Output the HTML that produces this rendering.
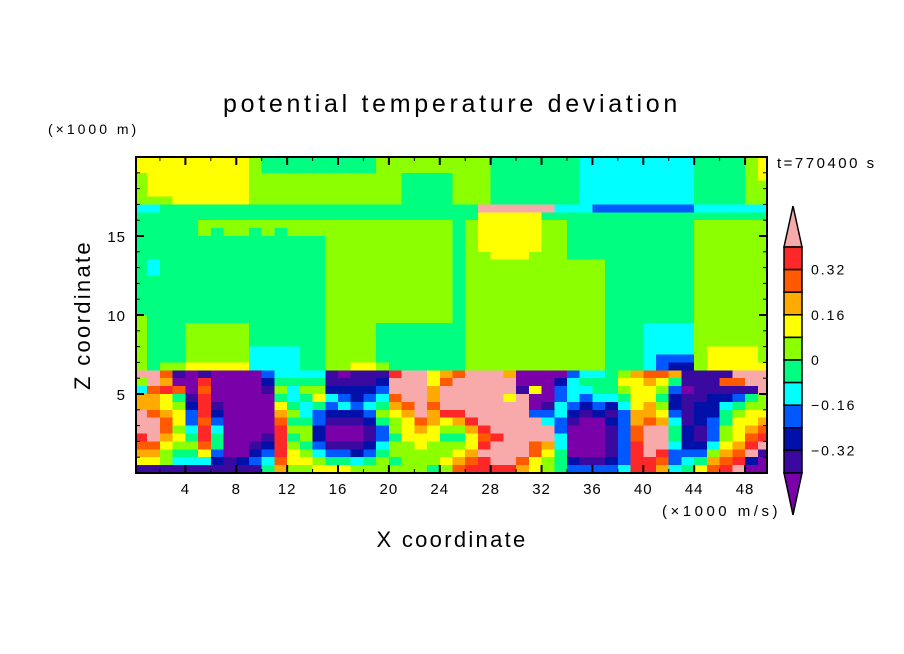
<!DOCTYPE html>
<html><head><meta charset="utf-8">
<style>
html,body{margin:0;padding:0;background:#fff;}
svg{display:block;font-family:"Liberation Sans","DejaVu Sans",sans-serif;}
</style></head>
<body>
<svg id="chart" width="904" height="654" viewBox="0 0 904 654">
  <text x="452" y="112" font-size="25" text-anchor="middle" letter-spacing="3.7">potential temperature deviation</text>
  <text x="48" y="134" font-size="14" letter-spacing="3">(×1000 m)</text>
  <text x="777" y="168" font-size="15" letter-spacing="2.5">t=770400 s</text>
  <text transform="translate(90,315) rotate(-90)" font-size="22" letter-spacing="2.3" text-anchor="middle">Z coordinate</text>
  <text x="452" y="547" font-size="22" letter-spacing="2.3" text-anchor="middle">X coordinate</text>
  <text x="662" y="516" font-size="15" letter-spacing="3.5">(×1000 m/s)</text>
  <defs><clipPath id="plotclip"><rect x="136" y="157" width="631" height="316"/></clipPath></defs>
  <g id="cells" clip-path="url(#plotclip)" shape-rendering="crispEdges"></g>
  <g id="axes"></g>
  <g id="cbar"></g>
</svg>
<script>
// ---- data ----
const xTicks = [4, 8, 12, 16, 20, 24, 28, 32, 36, 40, 44, 48];
const yTicks = [5, 10, 15];
const levelColors = ["#7a00aa","#3a0aa0","#0010a8","#0058ff","#00ffff","#00ff80","#8cff00","#ffff00","#ffaa00","#ff5a00","#ff2828","#f8aaaa"];
const cbarLabels = ["0.32", "0.16", "0", "\u22120.16", "\u22120.32"];
const cbarLabelBoundary = [1, 3, 5, 7, 9];
// upper field (z 20 -> 6.5 km, 0.5 km rows), run-length "level:count" over 50 columns of 1 km
const upperRows = [
"7:9,6:1,5:9,6:9,5:7,4:9,5:4,6:1,7:1",
"7:9,6:1,5:9,6:9,5:7,4:9,5:4,6:1,7:1",
"6:1,7:8,6:12,5:4,6:3,5:7,4:9,5:4,6:1,7:1",
"6:1,7:8,6:12,5:4,6:3,5:7,4:9,5:4,6:2",
"6:1,7:8,6:12,5:4,6:3,5:7,4:9,5:4,6:2",
"6:3,7:6,6:12,5:4,6:3,5:7,4:9,5:4,6:2",
"4:2,5:25,b:6,4:3,3:8,4:6",
"5:27,7:5,5:18",
"5:5,6:20,5:1,6:1,7:5,6:2,5:10,6:6",
"5:5,6:1,5:1,6:2,5:1,6:1,5:1,6:13,5:1,6:1,7:5,6:2,5:10,6:6",
"5:15,6:10,5:1,6:1,7:5,6:2,5:10,6:6",
"5:15,6:10,5:1,6:1,7:5,6:2,5:10,6:6",
"5:15,6:10,5:1,6:2,7:3,6:3,5:10,6:6",
"5:1,4:1,5:13,6:10,5:1,6:11,5:7,6:6",
"5:1,4:1,5:13,6:10,5:1,6:11,5:7,6:6",
"5:15,6:10,5:1,6:11,5:7,6:6",
"5:15,6:10,5:1,6:11,5:7,6:6",
"5:15,6:10,5:1,6:11,5:7,6:6",
"5:15,6:10,5:1,6:11,5:7,6:6",
"5:15,6:10,5:1,6:11,5:7,6:6",
"6:1,5:14,6:10,5:1,6:11,5:7,6:6",
"6:1,5:3,6:5,5:6,6:4,5:6,5:1,6:11,5:3,4:4,6:6",
"6:1,5:3,6:5,5:6,6:4,5:6,5:1,6:11,5:3,4:4,6:6",
"6:1,5:3,6:5,5:6,6:4,5:6,5:1,6:11,5:3,4:4,6:6",
"6:1,5:3,6:5,4:4,5:2,6:4,5:6,5:1,6:11,5:3,4:4,6:1,7:4,6:1",
"6:1,5:3,6:5,4:4,5:2,6:4,5:6,5:1,6:11,5:3,4:1,3:3,6:1,7:4,6:1",
"6:1,5:1,6:2,7:5,4:4,5:2,6:2,7:2,6:1,5:5,5:1,6:11,5:3,4:1,3:1,2:2,6:1,7:5"
];
// lower field: per column (x 0..49 km), levels for rows z 6.5 -> 0 km (13 rows of 0.5 km)
const cols = [
"b6488bbba9871","bb9889bbb9871","98a7789987661","1095677676541","0001233456541",
"1a9aaa9aa9741","0000123455321","0000000000011","0000000000021","0000000001231",
"3210000012345","4565789aaaa98","4544565656776","4565445665676","4567533223467",
"1124321001357","0123421001357","1122321001246","1123432112356","1234565334566",
"abb9876656656","bbbb987776666","bbbbbb9877666","7788988776665","89bbba7656676",
"9bbbba8656789","bbbbbba87789a","bbbbbbba9abaa","bbbbbbbbabbba","8bb7bbbbbbbba",
"001bbbbbbbb98","007003bbb9977","0000134bb8766","0233443344555","3444321000023",
"4543210000013","4554320000013","5554212111123","6765433333334","877778899aaaa",
"9877889bbbbaa","9765678bbba98","8532234554334","1101111222345","1111222112357",
"1112223334689","191245566789a","b9135677789ab","bb1567789ab20","bbb66789ab100"
];
</script>
<script>
const NX = 50, NZ = 40, DX = 1, DZ = 0.5, NLOW = 13;
function xScale(v){ return 134.5 + v * 12.72; }
function yScale(z){ return 473 - z * 15.8; }
function lvl(ch){ const n = parseInt(ch, 16); return isNaN(n) ? 6 : Math.min(11, n); }
function expand(spec){
  let out = [];
  spec.split(',').forEach(p => { const [l, n] = p.split(':'); for (let i = 0; i < +n; i++) out.push(lvl(l)); });
  while (out.length < NX) out.push(out[out.length - 1]);
  return out.slice(0, NX);
}
const upperGrid = upperRows.map(expand);
function cellLevel(r, c){
  if (r < upperGrid.length) return upperGrid[r][c];
  const s = cols[c];
  const k = r - upperGrid.length;
  return lvl(s[Math.min(s.length - 1, k)]);
}
const cellsG = document.getElementById('cells');
const NS = "http://www.w3.org/2000/svg";
for (let r = 0; r < NZ; r++) {
  for (let c = 0; c < NX; c++) {
    const L = cellLevel(r, c);
    const zTop = 20 - r * DZ;
    const x0 = xScale(c * DX), x1 = xScale((c + 1) * DX);
    const y0 = yScale(zTop), y1 = yScale(zTop - DZ);
    const rect = document.createElementNS(NS, 'rect');
    rect.setAttribute('x', x0.toFixed(2));
    rect.setAttribute('y', y0.toFixed(2));
    rect.setAttribute('width', (x1 - x0 + 0.6).toFixed(2));
    rect.setAttribute('height', (y1 - y0 + 0.6).toFixed(2));
    rect.setAttribute('fill', levelColors[L]);
    
    
    cellsG.appendChild(rect);
  }
}
// axes
const axesG = document.getElementById('axes');
function line(x1,y1,x2,y2,w,name){
  const l = document.createElementNS(NS,'line');
  l.setAttribute('x1',x1);l.setAttribute('y1',y1);l.setAttribute('x2',x2);l.setAttribute('y2',y2);
  l.setAttribute('stroke','#000');l.setAttribute('stroke-width',w);
  
  
  axesG.appendChild(l);
}
const frame = document.createElementNS(NS,'rect');
frame.setAttribute('x',136);frame.setAttribute('y',157);frame.setAttribute('width',631);frame.setAttribute('height',316);
frame.setAttribute('fill','none');frame.setAttribute('stroke','#000');frame.setAttribute('stroke-width',2);


axesG.appendChild(frame);
for (let v = 2; v < 50; v += 2) {
  const major = v % 4 === 0, x = xScale(v), len = major ? 8 : 4;
  line(x, 473, x, 473 - len, major ? 2 : 1, 'x-tick');
  line(x, 157, x, 157 + len, major ? 2 : 1, 'x-tick-top');
}
xTicks.forEach(v => {
  const t = document.createElementNS(NS,'text');
  t.setAttribute('x', xScale(v)); t.setAttribute('y', 494);
  t.setAttribute('font-size', 15); t.setAttribute('text-anchor','middle');
  t.setAttribute('letter-spacing', 1);
  t.textContent = v;
  
  
  axesG.appendChild(t);
});
for (let z = 1; z < 20; z++) {
  const major = z % 5 === 0, y = yScale(z), len = major ? 8 : 4;
  line(136, y, 136 + len, y, major ? 2 : 1, 'y-tick');
  line(767, y, 767 - len, y, major ? 2 : 1, 'y-tick-right');
}
yTicks.forEach(v => {
  const t = document.createElementNS(NS,'text');
  t.setAttribute('x', 126); t.setAttribute('y', yScale(v) + 6);
  t.setAttribute('font-size', 15); t.setAttribute('text-anchor','end');
  t.setAttribute('letter-spacing', 1);
  t.textContent = v;
  
  
  axesG.appendChild(t);
});
// colorbar
const cb = document.getElementById('cbar');
const cbX = 784, cbW = 18, cbTop = 247, boxH = 22.6;
const tri1 = document.createElementNS(NS,'polygon');
tri1.setAttribute('points', `${cbX},${cbTop} ${cbX+cbW},${cbTop} ${cbX+cbW/2},206`);
tri1.setAttribute('fill', levelColors[11]); tri1.setAttribute('stroke','#000'); tri1.setAttribute('stroke-width',1.5);


cb.appendChild(tri1);
for (let i = 0; i < 10; i++) {
  const L = 10 - i;
  const r = document.createElementNS(NS,'rect');
  r.setAttribute('x', cbX); r.setAttribute('y', cbTop + i * boxH);
  r.setAttribute('width', cbW); r.setAttribute('height', boxH);
  r.setAttribute('fill', levelColors[L]); r.setAttribute('stroke','#000'); r.setAttribute('stroke-width',1.5);
  
  
  cb.appendChild(r);
}
const bot = cbTop + 10 * boxH;
const tri2 = document.createElementNS(NS,'polygon');
tri2.setAttribute('points', `${cbX},${bot} ${cbX+cbW},${bot} ${cbX+cbW/2},515`);
tri2.setAttribute('fill', levelColors[0]); tri2.setAttribute('stroke','#000'); tri2.setAttribute('stroke-width',1.5);


cb.appendChild(tri2);
cbarLabels.forEach((s, i) => {
  const t = document.createElementNS(NS,'text');
  t.setAttribute('x', 811); t.setAttribute('y', cbTop + cbarLabelBoundary[i] * boxH + 5);
  t.setAttribute('font-size', 14);
  t.setAttribute('letter-spacing', 2);
  t.textContent = s;
  
  
  cb.appendChild(t);
});
</script>
</body></html>
